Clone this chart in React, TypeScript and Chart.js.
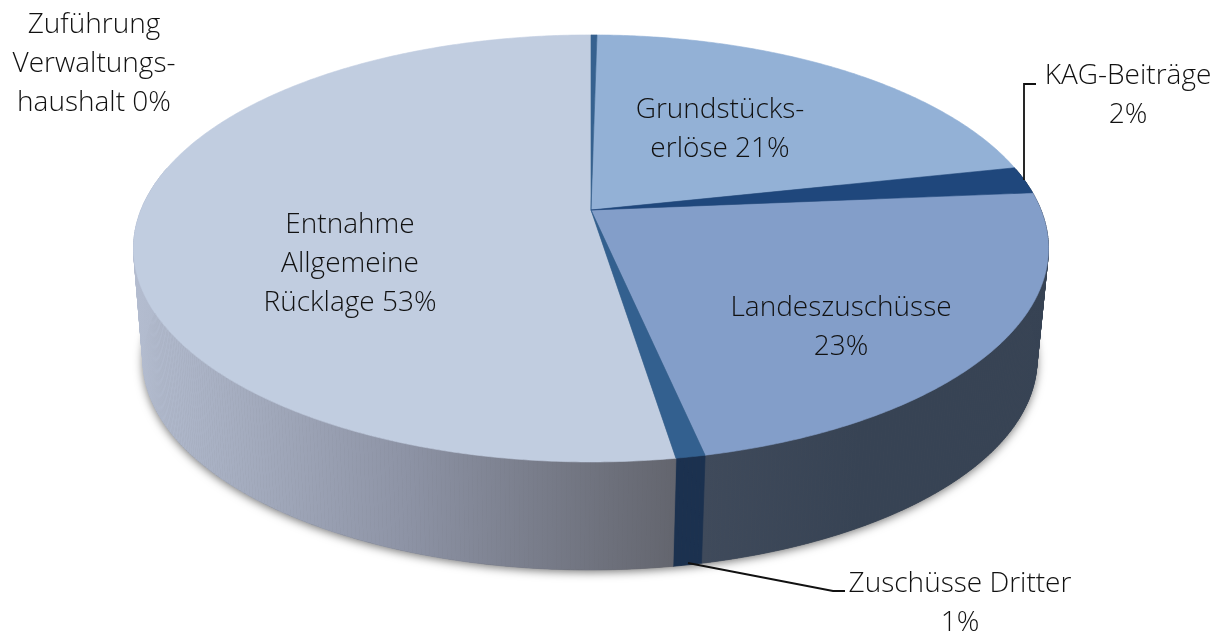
import React, { useEffect, useRef } from "react";
import { Chart, registerables } from "chart.js";

Chart.register(...registerables);

const categories = [
  "Zuführung Verwaltungshaushalt",
  "Grundstückserlöse",
  "KAG-Beiträge",
  "Landeszuschüsse",
  "Zuschüsse Dritter",
  "Entnahme Allgemeine Rücklage",
];
const shares = [0.25, 21.35, 2.05, 23.0, 0.87, 52.48];
const faceColors = ["#36618f", "#93b1d6", "#1f477c", "#839ec9", "#33608f", "#c1cde0"];
const labelLines = [
  ["Zuführung", "Verwaltungs-", "haushalt 0%"],
  ["Grundstücks-", "erlöse 21%"],
  ["KAG-Beiträge", "2%"],
  ["Landeszuschüsse", "23%"],
  ["Zuschüsse Dritter", "1%"],
  ["Entnahme", "Allgemeine", "Rücklage 53%"],
];

const FONT = '300 28px "Open Sans"';
const LINE_H = 39.2;
const labelAnchors = [
  [94, 33],
  [720, 118],
  [1128, 84],
  [841, 316],
  [960, 592],
  [350, 232.5],
];

const PERSP = -0.18;
const topRim = { cx: 591, cy: 210, a: 450.0, s: 206.6 };
const baseRim = { cx: 590, cy: 322, a: 439.7, s: 203.3 };

type Rim = typeof topRim;
const rimPoint = (r: Rim, angle: number) => {
  const X = Math.cos(angle);
  const Y = Math.sin(angle);
  const d = 1 + PERSP * Y;
  return [r.cx + (r.a * X) / d, r.cy + (r.s * Y) / d];
};

const wallStyle = (ctx: CanvasRenderingContext2D, i: number) => {
  if (i === 5 || i === 0) {
    const g = ctx.createLinearGradient(140, 0, 675, 0);
    g.addColorStop(0, "#b3bccf");
    g.addColorStop(0.5, "#8d93a5");
    g.addColorStop(1, "#63656e");
    return g;
  }
  if (i === 4) return "#1b314f";
  if (i === 3) {
    const g = ctx.createLinearGradient(704, 0, 860, 0);
    g.addColorStop(0, "#3f4a5b");
    g.addColorStop(1, "#374354");
    return g;
  }
  return "#374354";
};

const pie3d = {
  id: "pie3d",
  beforeDatasetsDraw(chart: any) {
    const ctx: CanvasRenderingContext2D = chart.ctx;
    const arcs = chart.getDatasetMeta(0).data;
    const step = Math.PI / 360;

    // ground shadow
    ctx.save();
    ctx.shadowColor = "rgba(0,0,0,0.55)";
    ctx.shadowBlur = 10;
    ctx.shadowOffsetY = 2;
    ctx.fillStyle = "#555";
    ctx.beginPath();
    for (let a = 0; a < Math.PI * 2; a += step) {
      const [x, y] = rimPoint(baseRim, a);
      a === 0 ? ctx.moveTo(x, y) : ctx.lineTo(x, y);
    }
    ctx.closePath();
    ctx.fill();
    ctx.restore();

    // side wall
    arcs.forEach((arc: any, i: number) => {
      const style = wallStyle(ctx, i);
      ctx.fillStyle = style;
      ctx.strokeStyle = style;
      ctx.lineWidth = 0.7;
      const n = Math.max(1, Math.ceil((arc.endAngle - arc.startAngle) / step));
      for (let k = 0; k < n; k++) {
        const a0 = arc.startAngle + ((arc.endAngle - arc.startAngle) * k) / n;
        const a1 = arc.startAngle + ((arc.endAngle - arc.startAngle) * (k + 1)) / n;
        if (Math.sin(a0) < -0.2 && Math.sin(a1) < -0.2) continue;
        const p = [rimPoint(topRim, a0), rimPoint(topRim, a1), rimPoint(baseRim, a1), rimPoint(baseRim, a0)];
        ctx.beginPath();
        p.forEach(([x, y], j) => (j ? ctx.lineTo(x, y) : ctx.moveTo(x, y)));
        ctx.closePath();
        ctx.fill();
        ctx.stroke();
      }
    });

    // top face
    [5, 1, 3, 0, 2, 4].forEach((i) => {
      const arc = arcs[i];
      ctx.fillStyle = arc.options.backgroundColor;
      ctx.strokeStyle = arc.options.backgroundColor;
      ctx.lineWidth = 0.6;
      ctx.beginPath();
      ctx.moveTo(topRim.cx, topRim.cy);
      const n = Math.max(2, Math.ceil((arc.endAngle - arc.startAngle) / step));
      for (let k = 0; k <= n; k++) {
        const [x, y] = rimPoint(topRim, arc.startAngle + ((arc.endAngle - arc.startAngle) * k) / n);
        ctx.lineTo(x, y);
      }
      ctx.closePath();
      ctx.fill();
      ctx.stroke();
    });

    // leader lines
    ctx.strokeStyle = "#111";
    ctx.lineWidth = 1.8;
    ctx.beginPath();
    ctx.moveTo(1024, 180);
    ctx.lineTo(1024, 84);
    ctx.lineTo(1036, 84);
    ctx.moveTo(688, 563);
    ctx.lineTo(833, 591);
    ctx.lineTo(845, 591);
    ctx.stroke();

    // labels
    ctx.fillStyle = "#111";
    ctx.font = FONT;
    ctx.textAlign = "center";
    ctx.textBaseline = "alphabetic";
    labelLines.forEach((lines, i) => {
      lines.forEach((t, j) => ctx.fillText(t, labelAnchors[i][0], labelAnchors[i][1] + j * LINE_H));
    });
    return false;
  },
};

export default function App() {
  const ref = useRef<HTMLCanvasElement>(null);
  useEffect(() => {
    const chart = new Chart(ref.current!, {
      type: "pie",
      data: {
        labels: categories,
        datasets: [{ data: shares, backgroundColor: faceColors, borderWidth: 0 }],
      },
      options: {
        responsive: false,
        animation: false,
        rotation: 0,
        plugins: { legend: { display: false }, tooltip: { enabled: false } },
      },
      plugins: [pie3d],
    } as any);
    return () => chart.destroy();
  }, []);
  return (
    <div style={{ position: "absolute", left: 0, top: 0, width: 1223, height: 634, background: "#fff" }}>
      <canvas ref={ref} width={1223} height={634} style={{ display: "block" }} />
    </div>
  );
}
